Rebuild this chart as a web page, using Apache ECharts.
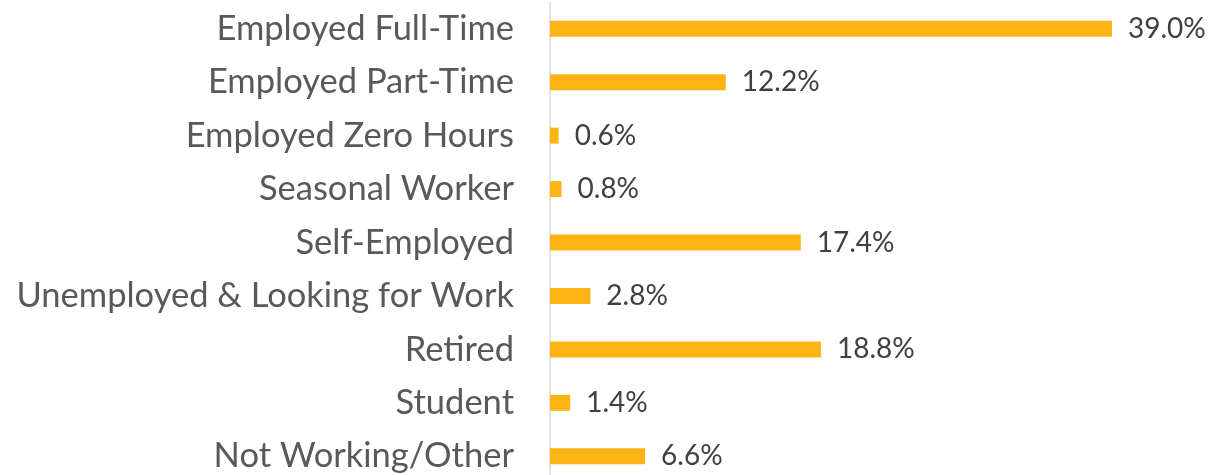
<!DOCTYPE html>
<html><head><meta charset="utf-8">
<script src="https://cdn.jsdelivr.net/npm/echarts@6/dist/echarts.min.js"></script>
<style>html,body{margin:0;padding:0;background:#fff}#c{width:1230px;height:475px}</style>
</head><body><div id="c"></div>
<script>
const categories = ["Employed Full-Time","Employed Part-Time","Employed Zero Hours","Seasonal Worker","Self-Employed","Unemployed & Looking for Work","Retired","Student","Not Working/Other"];
const values = [39.0,12.2,0.6,0.8,17.4,2.8,18.8,1.4,6.6];
const chart = echarts.init(document.getElementById('c'));
chart.setOption({
  animation:false,
  grid:{left:550,top:2,width:648.5,height:481,containLabel:false,outerBoundsMode:'none'},
  xAxis:{type:'value',min:0,max:45,show:false},
  yAxis:{type:'category',data:categories,inverse:true,
    axisLine:{show:true,lineStyle:{color:'#d9d9d9',width:1.5}},
    axisTick:{show:false},
    axisLabel:{color:'#595959',fontSize:34.5,fontFamily:'Lato',margin:36}},
  series:[{type:'bar',data:values,barWidth:16,
    itemStyle:{color:'#FDB515'},
    label:{show:true,position:'right',distance:16,color:'#404040',fontSize:28,fontFamily:'Lato',
      formatter:p=>p.value.toFixed(1)+'%'}}]
});
</script></body></html>
